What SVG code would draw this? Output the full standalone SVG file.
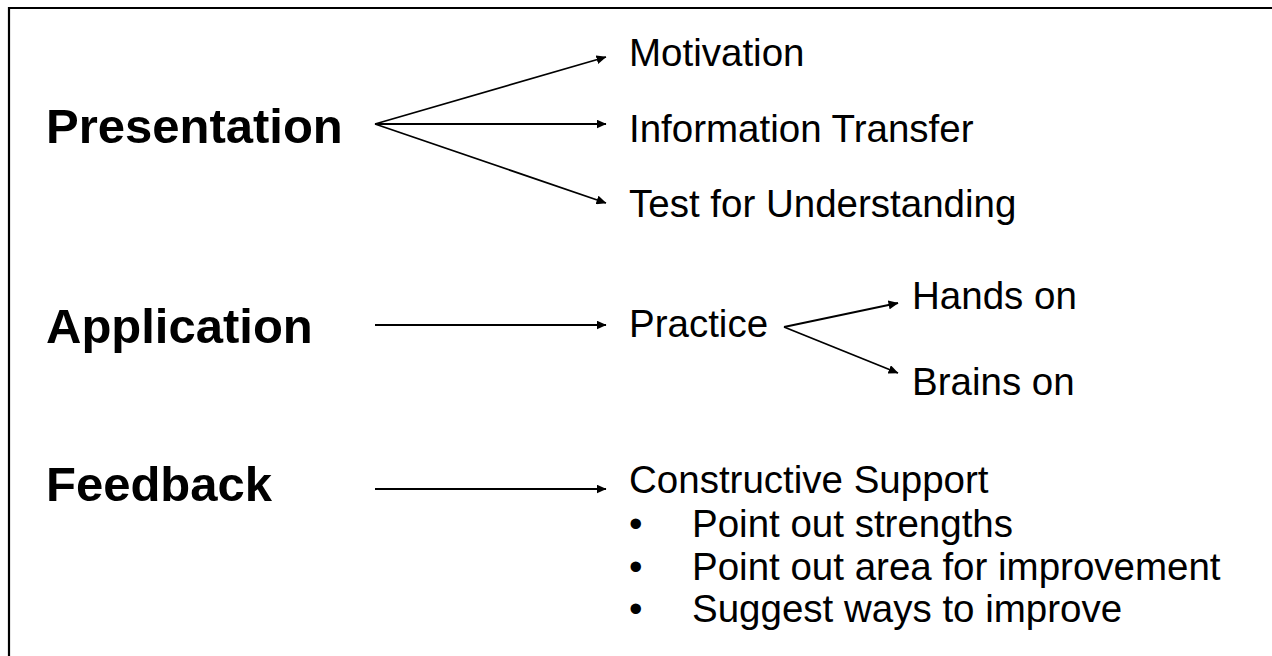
<svg xmlns="http://www.w3.org/2000/svg" width="1272" height="656" viewBox="0 0 1272 656">
<style>
.h{font-family:"Liberation Sans",Arial,sans-serif;font-weight:bold;font-size:49px;fill:#000}
.t{font-family:"Liberation Sans",Arial,sans-serif;font-size:38.5px;fill:#000}
.c{stroke:#000;stroke-width:1.8;fill:none;marker-end:url(#ah)}
</style>
<defs>
<marker id="ah" viewBox="0 0 10 9" refX="9.5" refY="4.5" markerWidth="10" markerHeight="9" markerUnits="userSpaceOnUse" orient="auto"><path d="M0,0 L10,4.5 L0,9 z" fill="#000"/></marker>
</defs>
<rect width="1272" height="656" fill="#fff"/>
<path d="M9,657 V8 H1273" stroke="#000" stroke-width="2.2" fill="none"/>
<g id="presentation"><text class="h" x="46" y="143">Presentation</text></g>
<g id="application"><text class="h" x="46" y="343">Application</text></g>
<g id="feedback"><text class="h" x="46" y="501">Feedback</text></g>
<g id="motivation"><text class="t" x="629" y="66">Motivation</text></g>
<g id="info"><text class="t" x="629" y="142">Information Transfer</text></g>
<g id="test"><text class="t" x="629" y="217">Test for Understanding</text></g>
<g id="practice"><text class="t" x="629" y="337">Practice</text></g>
<g id="hands"><text class="t" x="912" y="309">Hands on</text></g>
<g id="brains"><text class="t" x="912" y="395">Brains on</text></g>
<g id="constructive">
<text class="t" x="629" y="493">Constructive Support</text>
<text class="t" x="629" y="537">•</text><text class="t" x="692" y="537">Point out strengths</text>
<text class="t" x="629" y="580">•</text><text class="t" x="692" y="580">Point out area for improvement</text>
<text class="t" x="629" y="622">•</text><text class="t" x="692" y="622">Suggest ways to improve</text>
</g>
<g id="connectors">
<path class="c" d="M375,124 L606,57"/>
<path class="c" d="M375,124 L606,124"/>
<path class="c" d="M375,124 L606,203"/>
<path class="c" d="M375,325 L606,325"/>
<path class="c" d="M784,327 L898,303"/>
<path class="c" d="M784,327 L898,373"/>
<path class="c" d="M375,489 L606,489"/>
</g>
</svg>
